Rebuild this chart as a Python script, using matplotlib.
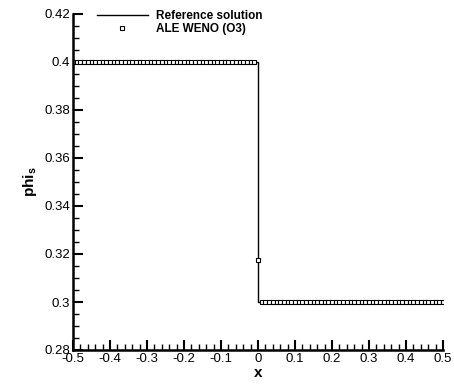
import numpy as np
import matplotlib
matplotlib.use("Agg")
import matplotlib.pyplot as plt
from matplotlib.ticker import MultipleLocator

plt.rcParams['font.family'] = ['Liberation Sans', 'DejaVu Sans']

# reference solution (exact step)
x_ref = [-0.5, 0.0, 0.0, 0.5]
phi_ref = [0.4, 0.4, 0.3, 0.3]

# ALE WENO (O3) points
x_num = np.round(np.arange(-0.5, 0.5001, 0.01), 3)
phi_num = np.where(x_num < 0, 0.4, 0.3)
phi_num[x_num == 0] = 0.3175

xticks = [-0.5, -0.4, -0.3, -0.2, -0.1, 0, 0.1, 0.2, 0.3, 0.4, 0.5]
xticklabels = ['-0.5', '-0.4', '-0.3', '-0.2', '-0.1', '0', '0.1', '0.2', '0.3', '0.4', '0.5']
yticks = [0.28, 0.3, 0.32, 0.34, 0.36, 0.38, 0.4, 0.42]
yticklabels = ['0.28', '0.3', '0.32', '0.34', '0.36', '0.38', '0.4', '0.42']

fig = plt.figure(figsize=(4.54, 3.85), dpi=100)
ax = fig.add_axes([73/454, 1-350/385, 370/454, 336/385])

ax.plot(x_ref, phi_ref, color='black', lw=1.0, label='Reference solution')
ax.plot(x_num, phi_num, ls='none', marker='s', ms=3.2, mfc='white', mec='black',
        mew=0.8, label='ALE WENO (O3)')

ax.set_xlim(-0.5, 0.5)
ax.set_ylim(0.28, 0.42)
ax.set_xticks(xticks)
ax.set_xticklabels(xticklabels)
ax.set_yticks(yticks)
ax.set_yticklabels(yticklabels)
ax.xaxis.set_minor_locator(MultipleLocator(0.02))
ax.yaxis.set_minor_locator(MultipleLocator(0.005))

for s in ['top', 'right']:
    ax.spines[s].set_visible(False)
for s in ['left', 'bottom']:
    ax.spines[s].set_linewidth(1.8)

ax.tick_params(which='major', direction='in', length=7, width=1.5, labelsize=9.5, pad=2)
ax.tick_params(which='minor', direction='in', length=4, width=1.0)

ax.set_xlabel('x', fontsize=11, fontweight='bold', labelpad=1)
ax.set_ylabel(r'phi$_{\mathregular{s}}$', fontsize=11, fontweight='bold', labelpad=4)

leg = ax.legend(loc='upper left', bbox_to_anchor=(0.049, 1.029), frameon=False,
                prop={'weight': 'bold', 'size': 8.5}, handlelength=4.3,
                handletextpad=0.7, labelspacing=0.05, borderpad=0)

fig.savefig('out.png', dpi=100)
